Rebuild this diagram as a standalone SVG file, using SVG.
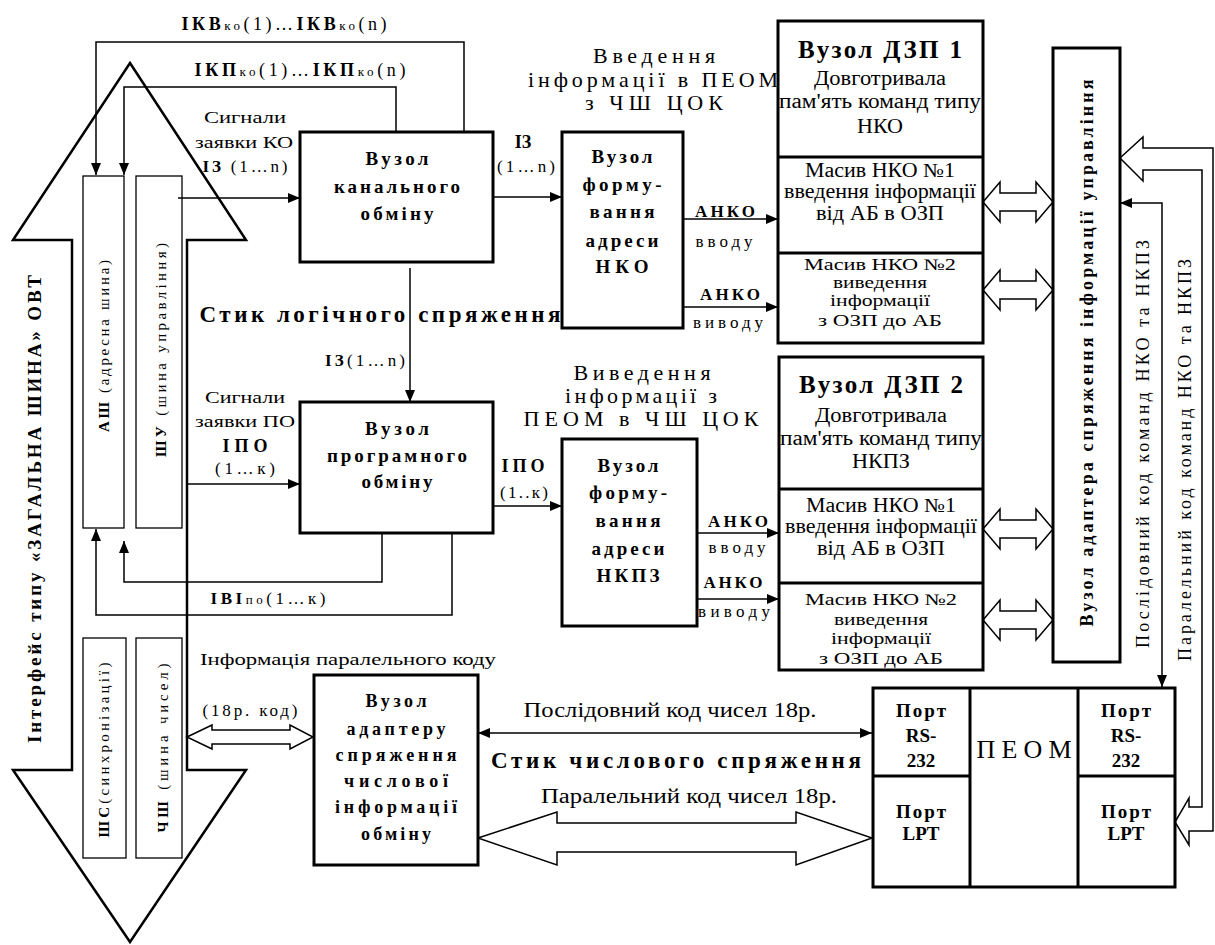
<svg xmlns="http://www.w3.org/2000/svg" width="1215" height="945" viewBox="0 0 1215 945" font-family="'Liberation Serif','DejaVu Serif','Times New Roman',serif">
<style>
text{font-family:'Liberation Serif','DejaVu Serif','Times New Roman',serif;fill:#000}
.b{font-weight:bold}
.m{text-anchor:middle}
.g{font-size:20px}
.k{font-size:16px}
.sm{font-size:13px;font-weight:normal}
.box{fill:#fff;stroke:#000;stroke-width:3}
.bar{fill:#fff;stroke:#000;stroke-width:1.3}
.div{stroke:#000;stroke-width:3}
.ln{fill:none;stroke:#000;stroke-width:1.5}
.arr{marker-end:url(#ah)}
.arr2{marker-start:url(#ah);marker-end:url(#ah)}
.hol{fill:#fff;stroke:#000;stroke-width:1.5}
.bus{fill:#fff;stroke:#000;stroke-width:2.5;stroke-linejoin:miter}
.f16{font-size:16px}.f17{font-size:17px}.f18{font-size:18px}.f19{font-size:19px}.f22{font-size:22px}
</style>
<defs>
<marker id="ah" viewBox="0 0 12 10" refX="12" refY="5" markerWidth="12" markerHeight="10" markerUnits="userSpaceOnUse" orient="auto-start-reverse"><path d="M0,0L12,5L0,10Z" fill="#000"/></marker>
</defs>
<rect width="1215" height="945" fill="#fff"/>

<g id="bus">
<polygon class="bus" points="130,63 246,240 187,240 187,770 246,770 130,942 13,770 72,770 72,240 13,240"/>
<text class="b m f19" transform="translate(41,509) rotate(-90)" textLength="468">Інтерфейс типу «ЗАГАЛЬНА ШИНА» ОВТ</text>
</g>
<g id="ash">
<rect class="bar" x="83" y="176" width="41" height="352"/>
<text class="m" font-size="15" transform="translate(109,346) rotate(-90)" textLength="172"><tspan class="b">АШ</tspan> (адресна шина)</text>
</g>
<g id="shu">
<rect class="bar" x="136" y="176" width="46" height="352"/>
<text class="m" font-size="15" transform="translate(166,350) rotate(-90)" textLength="214"><tspan class="b">ШУ</tspan> (шина управління)</text>
</g>
<g id="shs">
<rect class="bar" x="83" y="638" width="43" height="220"/>
<text class="m" font-size="15" transform="translate(109,750) rotate(-90)" textLength="175"><tspan class="b">ШС</tspan>(синхронізації)</text>
</g>
<g id="chsh">
<rect class="bar" x="136" y="638" width="46" height="220"/>
<text class="m" font-size="15" transform="translate(168,748) rotate(-90)" textLength="169"><tspan class="b">ЧШ</tspan> (шина чисел)</text>
</g>

<g id="connectors">
<path class="ln arr" d="M464,132V42H96V175"/>
<path class="ln arr" d="M396,132V87H124V175"/>
<path class="ln arr" d="M178,198H300"/>
<path class="ln arr" d="M493,197H562"/>
<path class="ln arr" d="M410,268V402"/>
<path class="ln arr" d="M187,484H300"/>
<path class="ln arr" d="M493,506H562"/>
<path class="ln arr" d="M382,533V582H124V541"/>
<path class="ln arr" d="M452,533V615H96V529"/>
<path class="ln arr" d="M683,219H778"/>
<path class="ln arr" d="M683,307H778"/>
<path class="ln arr" d="M697,533H779"/>
<path class="ln arr" d="M697,599H779"/>
<path class="ln arr2" d="M1120,203H1162V687"/>
<path class="ln arr2" d="M478,733H872"/>
<path class="hol" d="M983,202L1000,182V193H1036V182L1053,202L1036,222V211H1000V222Z"/>
<path class="hol" d="M983,290L1000,270V281H1036V270L1053,290L1036,310V299H1000V310Z"/>
<path class="hol" d="M983,529L1000,509V520H1036V509L1053,529L1036,549V538H1000V549Z"/>
<path class="hol" d="M983,620L1000,600V611H1036V600L1053,620L1036,640V629H1000V640Z"/>
<path class="hol" d="M1213,148H1143V137L1120,158L1143,181V170H1202V807H1189V798L1175,822L1189,845V831H1213Z"/>
<path class="hol" d="M187,737L212,725V730H290V725L313,737L290,749V744H212V749Z"/>
<path class="hol" d="M478,838L557,812V823H796V812L872,838L796,865V852H557V865Z"/>
</g>

<g id="node-canal">
<rect class="box" x="300" y="132" width="193" height="130"/>
<text class="b m f19" x="397" y="165" textLength="63">Вузол</text>
<text class="b m f19" x="397" y="193" textLength="126">канального</text>
<text class="b m f19" x="397" y="220" textLength="73">обміну</text>
</g>
<g id="node-program">
<rect class="box" x="300" y="402" width="193" height="131"/>
<text class="b m f19" x="397" y="435" textLength="64">Вузол</text>
<text class="b m f19" x="397" y="462" textLength="140">програмного</text>
<text class="b m f19" x="397" y="488" textLength="71">обміну</text>
</g>
<g id="node-form1">
<rect class="box" x="562" y="132" width="121" height="196"/>
<text class="b m f19" x="622" y="163" textLength="61">Вузол</text>
<text class="b m f19" x="622" y="191" textLength="79">форму-</text>
<text class="b m f19" x="622" y="218" textLength="65">вання</text>
<text class="b m f19" x="622" y="247" textLength="73">адреси</text>
<text class="b m f19" x="622" y="273" textLength="53">НКО</text>
</g>
<g id="node-form2">
<rect class="box" x="562" y="439" width="135" height="187"/>
<text class="b m f19" x="628" y="472" textLength="61">Вузол</text>
<text class="b m f19" x="628" y="499" textLength="78">форму-</text>
<text class="b m f19" x="628" y="527" textLength="65">вання</text>
<text class="b m f19" x="628" y="555" textLength="73">адреси</text>
<text class="b m f19" x="628" y="582" textLength="63">НКПЗ</text>
</g>
<g id="node-dzp1">
<rect class="box" x="778" y="21" width="205" height="322"/>
<line class="div" x1="778" y1="157" x2="983" y2="157"/>
<line class="div" x1="778" y1="253" x2="983" y2="253"/>
<text class="b m" font-size="25" x="880" y="58" textLength="164">Вузол ДЗП 1</text>
<text class="m g" x="880" y="85" textLength="132" lengthAdjust="spacingAndGlyphs">Довготривала</text>
<text class="m g" x="880" y="108" textLength="202" lengthAdjust="spacingAndGlyphs">пам'ять  команд типу</text>
<text class="m g" x="880" y="133" textLength="46" lengthAdjust="spacingAndGlyphs">НКО</text>
<text class="m g" x="880" y="177" textLength="150" lengthAdjust="spacingAndGlyphs">Масив НКО №1</text>
<text class="m g" x="880" y="198" textLength="192" lengthAdjust="spacingAndGlyphs">введення інформації</text>
<text class="m g" x="880" y="220" textLength="128" lengthAdjust="spacingAndGlyphs">від АБ в ОЗП</text>
<text class="m k" x="880" y="270" textLength="152" lengthAdjust="spacingAndGlyphs">Масив НКО №2</text>
<text class="m k" x="880" y="288" textLength="94" lengthAdjust="spacingAndGlyphs">виведення</text>
<text class="m k" x="880" y="306" textLength="100" lengthAdjust="spacingAndGlyphs">інформації</text>
<text class="m k" x="880" y="326" textLength="124" lengthAdjust="spacingAndGlyphs">з ОЗП до АБ</text>
</g>
<g id="node-dzp2">
<rect class="box" x="779" y="357" width="204" height="313"/>
<line class="div" x1="779" y1="489" x2="983" y2="489"/>
<line class="div" x1="779" y1="583" x2="983" y2="583"/>
<text class="b m" font-size="25" x="881" y="393" textLength="164">Вузол ДЗП 2</text>
<text class="m g" x="881" y="422" textLength="132" lengthAdjust="spacingAndGlyphs">Довготривала</text>
<text class="m g" x="881" y="445" textLength="202" lengthAdjust="spacingAndGlyphs">пам'ять  команд типу</text>
<text class="m g" x="881" y="468" textLength="58" lengthAdjust="spacingAndGlyphs">НКПЗ</text>
<text class="m g" x="881" y="512" textLength="150" lengthAdjust="spacingAndGlyphs">Масив НКО №1</text>
<text class="m g" x="881" y="533" textLength="192" lengthAdjust="spacingAndGlyphs">введення інформації</text>
<text class="m g" x="881" y="555" textLength="128" lengthAdjust="spacingAndGlyphs">від АБ в ОЗП</text>
<text class="m k" x="881" y="605" textLength="152" lengthAdjust="spacingAndGlyphs">Масив НКО №2</text>
<text class="m k" x="881" y="625" textLength="94" lengthAdjust="spacingAndGlyphs">виведення</text>
<text class="m k" x="881" y="644" textLength="100" lengthAdjust="spacingAndGlyphs">інформації</text>
<text class="m k" x="881" y="664" textLength="124" lengthAdjust="spacingAndGlyphs">з ОЗП до АБ</text>
</g>
<g id="node-adapter">
<rect class="box" x="1053" y="48" width="67" height="614"/>
<text class="b m f18" transform="translate(1093,353) rotate(-90)" textLength="547">Вузол адаптера спряження інформації управління</text>
</g>
<g id="node-peom">
<rect class="box" x="873" y="688" width="302" height="199"/>
<line class="div" x1="970" y1="688" x2="970" y2="887"/>
<line class="div" x1="1078" y1="688" x2="1078" y2="887"/>
<line class="div" x1="873" y1="776" x2="970" y2="776"/>
<line class="div" x1="1078" y1="776" x2="1175" y2="776"/>
<text class="b m f19" x="921" y="717" textLength="50">Порт</text>
<text class="b m f19" x="921" y="742">RS-</text>
<text class="b m f19" x="921" y="767">232</text>
<text class="b m f19" x="921" y="818" textLength="50">Порт</text>
<text class="b m f19" x="921" y="840">LPT</text>
<text class="m" font-size="26" x="1024" y="758" textLength="95">ПЕОМ</text>
<text class="b m f19" x="1126" y="717" textLength="50">Порт</text>
<text class="b m f19" x="1126" y="742">RS-</text>
<text class="b m f19" x="1126" y="767">232</text>
<text class="b m f19" x="1126" y="818" textLength="50">Порт</text>
<text class="b m f19" x="1126" y="840">LPT</text>
</g>
<g id="node-numeric">
<rect class="box" x="314" y="675" width="164" height="190"/>
<text class="b m f18" x="396" y="707" textLength="61">Вузол</text>
<text class="b m f18" x="396" y="735" textLength="99">адаптеру</text>
<text class="b m f18" x="396" y="761" textLength="121">спряження</text>
<text class="b m f18" x="396" y="787" textLength="104">числової</text>
<text class="b m f18" x="396" y="813" textLength="122">інформації</text>
<text class="b m f18" x="396" y="840" textLength="70">обміну</text>
</g>

<g id="labels">
<text class="m f18" x="284" y="30" textLength="205"><tspan class="b">ІКВ</tspan><tspan class="sm">ко</tspan>(1)…<tspan class="b">ІКВ</tspan><tspan class="sm">ко</tspan>(n)</text>
<text class="m f18" x="300" y="76" textLength="211"><tspan class="b">ІКП</tspan><tspan class="sm">ко</tspan>(1)…<tspan class="b">ІКП</tspan><tspan class="sm">ко</tspan>(n)</text>
<text class="m f17" x="245" y="123" textLength="82" lengthAdjust="spacingAndGlyphs">Сигнали</text>
<text class="m f17" x="244" y="148" textLength="98" lengthAdjust="spacingAndGlyphs">заявки КО</text>
<text class="m f17" x="245" y="172" textLength="85"><tspan class="b">ІЗ</tspan> (1…n)</text>
<text class="b m f18" x="523" y="148">ІЗ</text>
<text class="m f17" x="526" y="172" textLength="58">(1…n)</text>
<text class="b m" font-size="23" x="380" y="322" textLength="361">Стик логічного спряження</text>
<text class="m f17" x="365" y="366" textLength="80"><tspan class="b">ІЗ</tspan>(1…n)</text>
<text class="m f17" x="245" y="403" textLength="80" lengthAdjust="spacingAndGlyphs">Сигнали</text>
<text class="m f17" x="245" y="427" textLength="100" lengthAdjust="spacingAndGlyphs">заявки ПО</text>
<text class="b m f18" x="245" y="452" textLength="45">ІПО</text>
<text class="m f17" x="245" y="474" textLength="60">(1…к)</text>
<text class="b m f18" x="523" y="472" textLength="43">ІПО</text>
<text class="m f17" x="524" y="498" textLength="48">(1..к)</text>
<text class="m f17" x="268" y="604" textLength="115"><tspan class="b">ІВІ</tspan><tspan class="sm">по</tspan>(1…к)</text>
<text class="m f22" x="654" y="63" textLength="122">Введення</text>
<text class="m f22" x="653" y="87" textLength="250">інформації в ПЕОМ</text>
<text class="m f22" x="654" y="110" textLength="138">з ЧШ ЦОК</text>
<text class="m f22" x="642" y="380" textLength="137">Виведення</text>
<text class="m f22" x="641" y="403" textLength="152">інформації з</text>
<text class="m f22" x="641" y="426" textLength="235">ПЕОМ в ЧШ ЦОК</text>
<text class="b m f17" x="725" y="217" textLength="60">АНКО</text>
<text class="m f17" x="724" y="247" textLength="57">вводу</text>
<text class="b m f17" x="730" y="300" textLength="60">АНКО</text>
<text class="m f17" x="728" y="328" textLength="70">виводу</text>
<text class="b m f17" x="738" y="527" textLength="60">АНКО</text>
<text class="m f17" x="737" y="553" textLength="57">вводу</text>
<text class="b m f17" x="733" y="588" textLength="59">АНКО</text>
<text class="m f17" x="734" y="617" textLength="72">виводу</text>
<text class="f17" x="200" y="665" textLength="296" lengthAdjust="spacingAndGlyphs">Інформація паралельного  коду</text>
<text class="m f17" x="250" y="716" textLength="95">(18р. код)</text>
<text class="m" font-size="20" x="670" y="717" textLength="293" lengthAdjust="spacingAndGlyphs">Послідовний код чисел 18р.</text>
<text class="b m" font-size="23" x="676" y="768" textLength="370">Стик числового спряження</text>
<text class="m" font-size="20" x="689" y="803" textLength="296" lengthAdjust="spacingAndGlyphs">Паралельний код чисел 18р.</text>
<text class="m f18" transform="translate(1149,444) rotate(-90)" textLength="408">Послідовний код команд НКО та НКПЗ</text>
<text class="m f18" transform="translate(1191,460) rotate(-90)" textLength="402">Паралельний код команд НКО та НКПЗ</text>
</g>
</svg>
